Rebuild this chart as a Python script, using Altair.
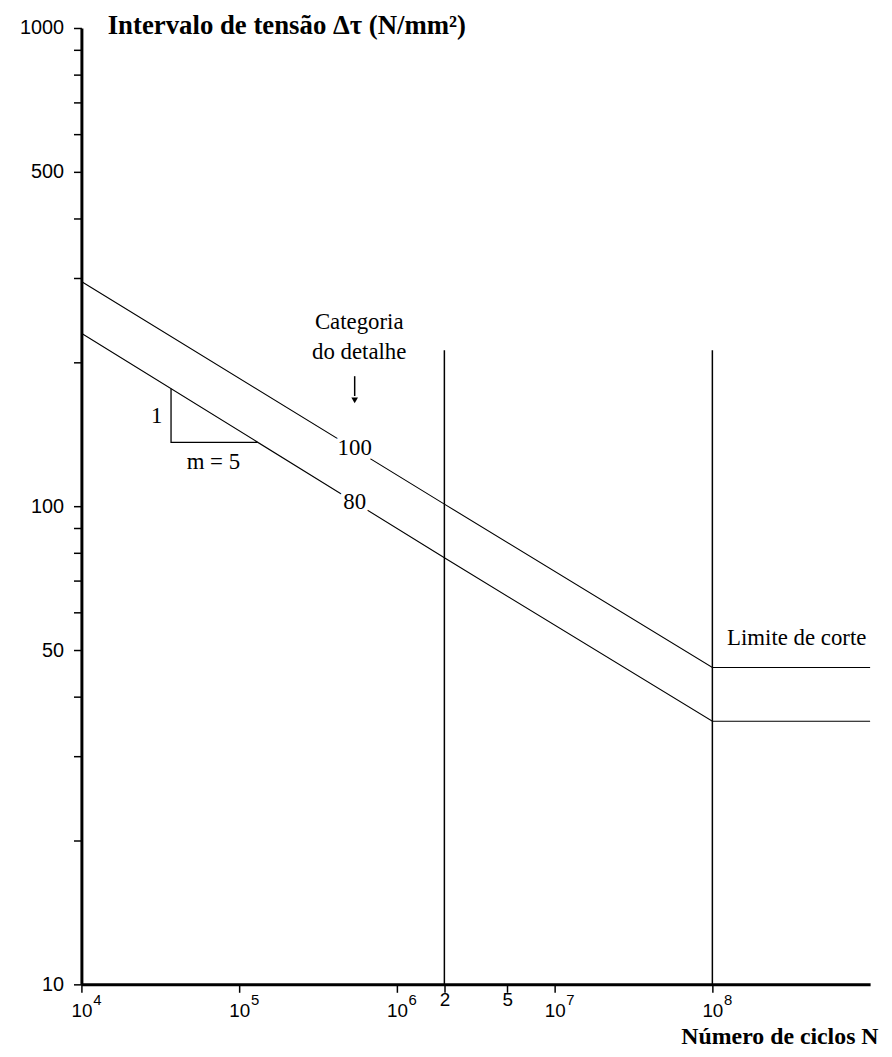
import altair as alt
import pandas as pd

# ---- data ----
N_curve = [1e4, 2e6, 1e8, 1e9]
delta_100 = [295, 101, 46, 46]
delta_80 = [230, 78, 35.5, 35.5]

vline_N = [2e6, 1e8]
vline_top = [212, 212]
vline_bottom = [10, 10]

tri_N = [3.7e4, 3.7e4, 1.31e5]
tri_v = [176, 136, 136]
tri_order = [0, 1, 2]

cat_label_N = [5.4e5, 5.4e5]
cat_label_v = [132, 102]
cat_label_txt = ["100", "80"]

note_N = [5.77e5, 5.77e5, 3.0e4, 6.86e4]
note_v = [234.7, 203.5, 149, 119.5]
note_txt = ["Categoria", "do detalhe", "1", "m = 5"]

limit_N = [1.24e8]
limit_v = [51.3]
limit_txt = ["Limite de corte"]

arrow_N = [5.4e5]
arrow_top = [187]
arrow_bottom = [170]
arrow_head = [166.5]

exp_N = [1e4, 1e5, 1e6, 1e7, 1e8]
exp_txt = ["4", "5", "6", "7", "8"]

x_ticks = [1e4, 1e5, 1e6, 2e6, 5e6, 1e7, 1e8]
y_ticks = [10, 20, 30, 40, 50, 60, 70, 80, 90,
           100, 200, 300, 400, 500, 600, 700, 800, 900, 1000]

SERIF = "Liberation Serif"
SANS = "Liberation Sans"

PLOT_H = 964

xscale = alt.Scale(type="log", domain=[1e4, 1e9], nice=False)
yscale = alt.Scale(type="log", domain=[10, 1000], nice=False)

df_curve = pd.DataFrame({
    "N": N_curve + N_curve,
    "v": delta_100 + delta_80,
    "cat": ["100"] * len(N_curve) + ["80"] * len(N_curve),
})

x_axis = alt.Axis(
    values=x_ticks,
    labelExpr="datum.value == 2000000 ? '2' : (datum.value == 5000000 ? '5' : ['', '10'])",
    labelBaseline="top",
    labelFontSize=19,
    labelLineHeight=11,
    labelPadding=-2,
    labelFlush=False,
    labelOverlap=False,
    title="Número de ciclos N",
    titleFontSize=24,
    titleAlign="right",
    titleBaseline="alphabetic",
    titleX=803,
    titleY=60,
)
y_axis = alt.Axis(
    values=y_ticks,
    labelExpr="indexof([10, 50, 100, 500, 1000], datum.value) >= 0 ? datum.value + '' : ''",
    labelPadding=10,
    labelFlush=False,
    labelOverlap=False,
    labelBaseline="middle",
    title="Intervalo de tensão Δτ (N/mm²)",
    titleFontSize=27,
    titleAngle=0,
    titleAlign="left",
    titleBaseline="alphabetic",
    titleX=26,
    titleY=6,
)


def X(field="N"):
    return alt.X(f"{field}:Q", scale=xscale, axis=x_axis)


def Y(field="v"):
    return alt.Y(f"{field}:Q", scale=yscale, axis=y_axis)


curves = alt.Chart(df_curve).mark_line(color="black", strokeWidth=1.1).encode(
    x=X(), y=Y(), detail="cat:N",
)

vlines = alt.Chart(pd.DataFrame({"N": vline_N, "top": vline_top, "bot": vline_bottom})).mark_rule(
    color="black", strokeWidth=1.5
).encode(x=X(), y=Y("top"), y2="bot:Q")

tri = alt.Chart(pd.DataFrame({"N": tri_N, "v": tri_v, "o": tri_order})).mark_line(
    color="black", strokeWidth=1.3
).encode(x=X(), y=Y(), order="o:Q")

df_cat = pd.DataFrame({"N": cat_label_N, "v": cat_label_v, "t": cat_label_txt})
cat_halo = alt.Chart(df_cat).mark_text(
    font=SERIF, fontSize=23, fill="white", stroke="white", strokeWidth=9,
    align="center", baseline="middle"
).encode(x=X(), y=Y(), text="t:N")
cat_text = alt.Chart(df_cat).mark_text(
    font=SERIF, fontSize=23, color="black", align="center", baseline="middle"
).encode(x=X(), y=Y(), text="t:N")

notes = alt.Chart(pd.DataFrame({"N": note_N, "v": note_v, "t": note_txt})).mark_text(
    font=SERIF, fontSize=23, color="black", align="center", baseline="alphabetic"
).encode(x=X(), y=Y(), text="t:N")

limit = alt.Chart(pd.DataFrame({"N": limit_N, "v": limit_v, "t": limit_txt})).mark_text(
    font=SERIF, fontSize=23, color="black", align="left", baseline="alphabetic"
).encode(x=X(), y=Y(), text="t:N")

arrow_shaft = alt.Chart(pd.DataFrame({"N": arrow_N, "top": arrow_top, "bot": arrow_bottom})).mark_rule(
    color="black", strokeWidth=1.5
).encode(x=X(), y=Y("top"), y2="bot:Q")
arrow_tip = alt.Chart(pd.DataFrame({"N": arrow_N, "v": arrow_head})).mark_point(
    shape="triangle-down", filled=True, color="black", size=45, opacity=1
).encode(x=X(), y=Y())

exps = alt.Chart(pd.DataFrame({"N": exp_N, "t": exp_txt})).mark_text(
    font=SANS, fontSize=15, color="black", align="center", baseline="middle", dx=16, dy=16
).encode(x=X(), y=alt.value(PLOT_H), text="t:N")

chart = alt.layer(
    curves, vlines, tri, cat_halo, cat_text, notes, limit, arrow_shaft, arrow_tip, exps
).properties(
    width=795,
    height=PLOT_H,
    autosize=alt.AutoSizeParams(type="none"),
    padding={"left": 74, "top": 16, "right": 14, "bottom": 1041 - 16 - PLOT_H},
    background="white",
).configure_view(stroke=None).configure_axis(
    grid=False,
    domainColor="black",
    domainWidth=3,
    tickColor="black",
    tickWidth=1.5,
    tickSize=8,
    labelFont=SANS,
    labelFontSize=20,
    labelColor="black",
    titleFont=SERIF,
    titleFontSize=26,
    titleFontWeight="bold",
    titleColor="black",
)

chart.save("out.html", embed_options={"renderer": "svg", "actions": False})
